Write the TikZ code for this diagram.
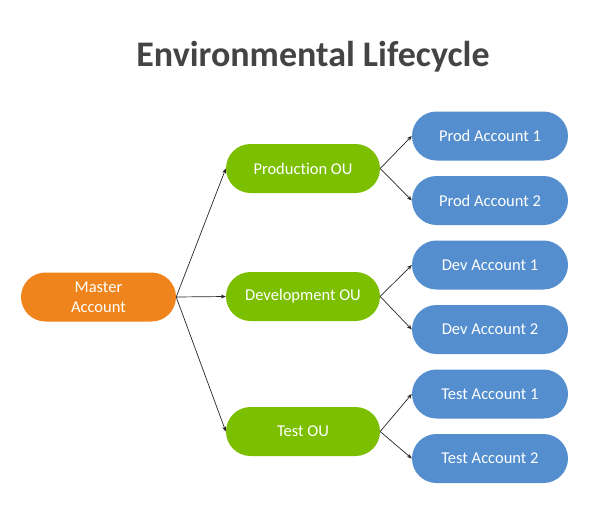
\documentclass[tikz,border=0pt]{standalone}
\usepackage{fontspec}
\setmainfont{Carlito}[Ligatures={CommonOff,RareOff}]
\usetikzlibrary{arrows.meta}
\definecolor{mOrange}{RGB}{240,132,28}
\definecolor{mGreen}{RGB}{124,191,0}
\definecolor{mBlue}{RGB}{84,142,207}
\definecolor{mTitle}{RGB}{68,68,70}
\begin{document}
\begin{tikzpicture}[x=1pt,y=-1pt,
  pill/.style={rounded corners=24.5pt,minimum height=49pt,text=white,font=\fontsize{16.5}{20}\selectfont,align=center,inner sep=0pt},
  master/.style={pill,fill=mOrange,minimum width=155pt},
  ou/.style={pill,fill=mGreen,minimum width=154pt},
  acct/.style={pill,fill=mBlue,minimum width=156pt},
  conn/.style={draw=black!85,line width=0.7pt,-{Stealth[length=5pt,width=4pt]}}]
\useasboundingbox (0,0) rectangle (598,528);
\node[font=\fontsize{36}{40}\selectfont\bfseries,text=mTitle] (title) at (313,57) {Environmental Lifecycle};
\node[master] (m) at (98.5,297) {Master\\Account};
\node[ou] (p) at (303,168.5) {Production OU};
\node[ou] (d) at (303,296.5) {Development OU};
\node[ou] (t) at (303,431.5) {Test OU};
\node[acct] (p1) at (490,136) {Prod Account 1};
\node[acct] (p2) at (490,200.5) {Prod Account 2};
\node[acct] (d1) at (490,265) {Dev Account 1};
\node[acct] (d2) at (490,329.5) {Dev Account 2};
\node[acct] (t1) at (490,394) {Test Account 1};
\node[acct] (t2) at (490,458.5) {Test Account 2};
\foreach \a in {p,d,t} \draw[conn] (m.east) -- (\a.west);
\draw[conn] (p.east) -- (p1.west);
\draw[conn] (p.east) -- (p2.west);
\draw[conn] (d.east) -- (d1.west);
\draw[conn] (d.east) -- (d2.west);
\draw[conn] (t.east) -- (t1.west);
\draw[conn] (t.east) -- (t2.west);
\end{tikzpicture}
\end{document}
